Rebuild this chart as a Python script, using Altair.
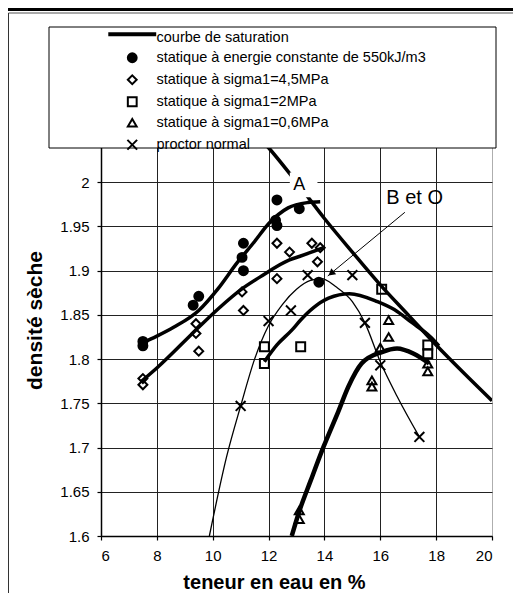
import altair as alt
import pandas as pd

FONT = "Liberation Sans"

# ---------------- data ----------------
# saturation curve
sat_x = [11.8, 12.0, 13.0, 14.0, 15.0, 16.0, 17.0, 18.0, 19.0, 20.0]
sat_y = [2.046, 2.039, 2.0, 1.959, 1.921, 1.884, 1.850, 1.816, 1.784, 1.753]

# statique a energie constante de 550kJ/m3 (filled circles)
e550_x = [7.5, 7.5, 9.3, 9.5, 11.05, 11.1, 11.1, 12.25, 12.3, 12.3, 13.1, 13.8]
e550_y = [1.815, 1.82, 1.861, 1.871, 1.915, 1.931, 1.900, 1.957, 1.951, 1.980, 1.970, 1.887]
e550_cx = [7.45, 8.0, 8.6, 9.5, 10.2, 10.85, 11.5, 12.0, 12.7, 13.4, 13.85]
e550_cy = [1.818, 1.826, 1.836, 1.855, 1.880, 1.908, 1.933, 1.953, 1.971, 1.977, 1.978]

# statique a sigma1=4,5MPa (diamonds)
s45_x = [7.5, 7.5, 9.4, 9.4, 9.5, 11.05, 11.1, 12.3, 12.3, 12.75, 13.55, 13.85, 13.75]
s45_y = [1.778, 1.771, 1.829, 1.840, 1.809, 1.876, 1.855, 1.931, 1.891, 1.921, 1.931, 1.926, 1.910]
s45_cx = [7.45, 8.0, 9.4, 10.2, 11.07, 11.7, 12.73, 13.1, 13.97]
s45_cy = [1.775, 1.790, 1.833, 1.857, 1.880, 1.893, 1.912, 1.916, 1.926]

# statique a sigma1=2MPa (squares)
s2_x = [11.85, 11.85, 13.15, 16.05, 17.7, 17.7]
s2_y = [1.814, 1.795, 1.814, 1.879, 1.816, 1.806]
s2_cx = [11.85, 12.3, 12.84, 13.14, 13.6, 14.15, 14.9, 15.9, 16.5, 17.1, 17.8, 18.1]
s2_cy = [1.797, 1.816, 1.833, 1.844, 1.858, 1.869, 1.874, 1.865, 1.856, 1.842, 1.825, 1.815]

# statique a sigma1=0,6MPa (triangles)
s06_x = [13.1, 13.1, 15.7, 15.7, 16.0, 16.3, 16.3, 17.7, 17.7]
s06_y = [1.629, 1.619, 1.776, 1.769, 1.813, 1.844, 1.825, 1.795, 1.786]
s06_cx = [12.83, 13.1, 13.5, 13.97, 14.5, 14.86, 15.33, 16.06, 16.6, 17.2, 17.75]
s06_cy = [1.600, 1.628, 1.662, 1.701, 1.741, 1.769, 1.795, 1.808, 1.812, 1.806, 1.795]

# proctor normal (crosses)
pn_x = [11.0, 12.0, 12.8, 13.4, 15.0, 15.45, 16.0, 17.4]
pn_y = [1.747, 1.843, 1.855, 1.895, 1.895, 1.841, 1.793, 1.712]
pn_cx = [9.88, 10.5, 11.0, 11.5, 12.0, 12.5, 13.0, 13.5, 13.9, 14.4, 15.0, 15.45, 16.0, 16.6, 17.4]
pn_cy = [1.600, 1.690, 1.747, 1.800, 1.838, 1.862, 1.879, 1.889, 1.891, 1.882, 1.865, 1.841, 1.797, 1.758, 1.712]

series_labels = [
    "courbe de saturation",
    "statique à energie constante de 550kJ/m3",
    "statique à sigma1=4,5MPa",
    "statique à sigma1=2MPa",
    "statique à sigma1=0,6MPa",
    "proctor normal",
]

x_ticks = [6, 8, 10, 12, 14, 16, 18, 20]
y_ticks = [1.6, 1.65, 1.7, 1.75, 1.8, 1.85, 1.9, 1.95, 2.0]

# annotations
label_A = ["A"]
label_A_x = [13.1]
label_A_y = [1.997]
box_A = {"x": [12.76], "x2": [13.75], "y": [1.983], "y2": [2.011]}
label_BO = ["B et O"]
label_BO_x = [17.23]
label_BO_y = [1.982]
arrow_from = [16.88, 1.966]
arrow_to = [14.12, 1.894]

# ---------------- chart ----------------
W, H = 391, 398
x_scale = alt.Scale(domain=[6, 20], nice=False, zero=False)
y_scale = alt.Scale(domain=[1.6, 2.05], nice=False, zero=False)

x_axis = alt.Axis(
    values=x_ticks, grid=True, gridColor="#222", gridWidth=1,
    gridOpacity={"condition": {"test": "datum.value >= 20", "value": 0.25}, "value": 1},
    domainColor="black", domainWidth=1.5, tickColor="black", tickSize=4, tickWidth=1.2,
    labelFont=FONT, labelFontSize=15, labelColor="black", labelPadding=8,
    title="teneur en eau en %", titleFont=FONT, titleFontSize=20, titleFontWeight="bold",
    titleColor="black", titleX=173, titleY=52, titleBaseline="alphabetic", titleAlign="center",
)
y_axis = alt.Axis(
    values=y_ticks, format="~g", grid=True, gridColor="#222", gridWidth=1,
    domainColor="black", domainWidth=1.5, tickColor="black", tickSize=4, tickWidth=1.2,
    labelFont=FONT, labelFontSize=15, labelColor="black", labelPadding=8,
    title="densité sèche", titleFont=FONT, titleFontSize=21, titleFontWeight="bold",
    titleColor="black", titleX=-66, titleY=182, titleAngle=270, titleBaseline="middle",
    titleAlign="center",
)

def X(field="x"):
    return alt.X(f"{field}:Q", scale=x_scale, axis=x_axis)

def Y(field="y"):
    return alt.Y(f"{field}:Q", scale=y_scale, axis=y_axis)

def curve(xs, ys, width):
    df = pd.DataFrame({"x": xs, "y": ys})
    return alt.Chart(df).mark_line(
        color="black", strokeWidth=width, interpolate="monotone", clip=True
    ).encode(x=X(), y=Y())

layers = []
layers.append(curve(e550_cx, e550_cy, 3.5))
layers.append(curve(s45_cx, s45_cy, 3.5))
layers.append(curve(s2_cx, s2_cy, 3.5))
layers.append(curve(s06_cx, s06_cy, 4.5))
layers.append(curve(pn_cx, pn_cy, 1.3))
layers.append(curve(sat_x, sat_y, 3.5))

# white box behind "A"
layers.append(
    alt.Chart(pd.DataFrame(box_A)).mark_rect(fill="white").encode(
        x=X("x"), x2="x2:Q", y=Y("y"), y2="y2:Q"
    )
)

# points
rows = []
for lab, xs, ys in [
    (series_labels[1], e550_x, e550_y),
    (series_labels[2], s45_x, s45_y),
    (series_labels[3], s2_x, s2_y),
    (series_labels[4], s06_x, s06_y),
    (series_labels[5], pn_x, pn_y),
]:
    for a, b in zip(xs, ys):
        rows.append({"x": a, "y": b, "serie": lab})
pts = pd.DataFrame(rows)

line_sym = "M-5.2,-1.0H5.2V-0.55H-5.2Z"
x_sym = "M-1.1,-1.1L1.1,1.1M-1.1,1.1L1.1,-1.1"
shapes = [line_sym, "circle", "diamond", "square", "triangle-up", x_sym]
fills = ["black", "black", "transparent", "transparent", "transparent", "transparent"]
strokes = ["black"] * 6

legend = alt.Legend(
    title=None, orient="none", legendX=24, legendY=-107.5, padding=0,
    labelFont=FONT, labelFontSize=14.5, labelColor="black", labelOffset=17,
    symbolSize=78, symbolStrokeWidth=2, symbolStrokeColor="black",
    rowPadding=4, labelLimit=400,
)

layers.append(
    alt.Chart(pts).mark_point(stroke="black", strokeWidth=2, size=80, opacity=1).encode(
        x=X(), y=Y(),
        shape=alt.Shape("serie:N", scale=alt.Scale(domain=series_labels, range=shapes), legend=legend),
        fill=alt.Fill("serie:N", scale=alt.Scale(domain=series_labels, range=fills), legend=legend),
        stroke=alt.Stroke("serie:N", scale=alt.Scale(domain=series_labels, range=strokes), legend=legend),
    )
)

# arrow
arrow_df = pd.DataFrame({"x": [arrow_from[0]], "y": [arrow_from[1]], "x2": [arrow_to[0]], "y2": [arrow_to[1]]})
layers.append(
    alt.Chart(arrow_df).mark_rule(color="black", strokeWidth=1).encode(
        x=X("x"), y=Y("y"), x2="x2:Q", y2="y2:Q"
    )
)
head_df = pd.DataFrame({"x": [arrow_to[0] + 0.12], "y": [arrow_to[1] + 0.003]})
layers.append(
    alt.Chart(head_df).mark_point(
        shape="triangle-up", filled=True, color="black", size=60, angle=231, opacity=1
    ).encode(x=X(), y=Y())
)

# text labels
layers.append(
    alt.Chart(pd.DataFrame({"x": label_A_x, "y": label_A_y, "t": label_A})).mark_text(
        font=FONT, fontSize=18, color="black", baseline="middle", align="center"
    ).encode(x=X(), y=Y(), text="t:N")
)
layers.append(
    alt.Chart(pd.DataFrame({"x": label_BO_x, "y": label_BO_y, "t": label_BO})).mark_text(
        font=FONT, fontSize=20, color="black", baseline="middle", align="center"
    ).encode(x=X(), y=Y(), text="t:N")
)

# legend background box and frame (decoration)
one = alt.Data(values=[{"a": 1}])
layers.append(
    alt.Chart(one).mark_rect(fill="white", stroke="black", strokeWidth=1).encode(
        x=alt.value(-52), x2=alt.value(395), y=alt.value(-111), y2=alt.value(10)
    )
)
layers.append(
    alt.Chart(one).mark_rule(color="black", strokeWidth=3).encode(
        x=alt.value(-93), x2=alt.value(412), y=alt.value(-128.5)
    )
)
layers.append(
    alt.Chart(one).mark_rule(color="#555", strokeWidth=1).encode(
        x=alt.value(-92.5), x2=alt.value(412), y=alt.value(-125)
    )
)
layers.append(
    alt.Chart(one).mark_rule(color="#333", strokeWidth=1).encode(
        x=alt.value(-92.5), y=alt.value(-125), y2=alt.value(455)
    )
)

chart = alt.layer(*layers).properties(
    width=W, height=H,
    autosize=alt.AutoSizeParams(type="none"),
    padding={"left": 93, "top": 130, "right": 21, "bottom": 57},
).configure_view(strokeWidth=0).configure(background="white")

chart.save("out.html", embed_options={"renderer": "svg", "actions": False})
